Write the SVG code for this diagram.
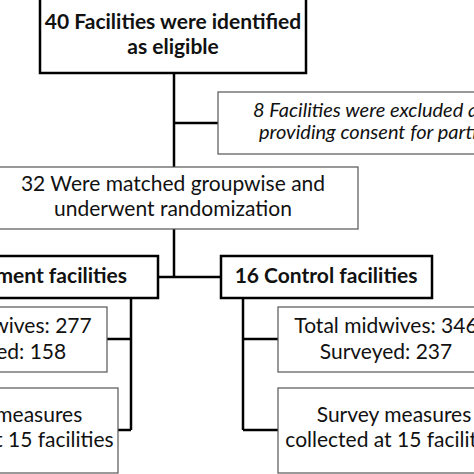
<svg xmlns="http://www.w3.org/2000/svg" width="474" height="474" viewBox="0 0 474 474">
<style>
.thick{fill:#fff;stroke:#000;stroke-width:2.5}
.thin{fill:#fff;stroke:#555;stroke-width:1.2}
.b{font-family:Lato,"Liberation Sans",sans-serif;font-weight:bold;font-size:21px;fill:#111;text-anchor:middle}
.r{font-family:Lato,"Liberation Sans",sans-serif;font-size:21px;fill:#111;text-anchor:middle}
.i{font-family:Lato,"Liberation Sans",sans-serif;font-style:italic;font-size:20px;fill:#111}
.c{fill:none;stroke:#000;stroke-width:2.5}
</style>
<rect width="474" height="474" fill="#fff"/>
<g id="connectors">
<path class="c" d="M174 73V167M174 123H218M174 229V277M158 277H221M131 298V430M107 339H131M118 430H131M243 298V430M243 339H278M243 430H278"/>
</g>
<g id="n-eligible">
<rect class="thick" x="40" y="-2" width="266" height="75"/>
<text class="b" x="173" y="29">40 Facilities were identified</text>
<text class="b" x="173" y="54">as eligible</text>
</g>
<g id="n-excluded">
<rect class="thin" x="218" y="92" width="320" height="62"/>
<text class="i" x="253" y="117">8 Facilities were excluded after not</text>
<text class="i" x="259" y="139">providing consent for participation</text>
</g>
<g id="n-randomized">
<rect class="thin" x="-12" y="167" width="370" height="62"/>
<text class="r" x="173" y="191">32 Were matched groupwise and</text>
<text class="r" x="173" y="216">underwent randomization</text>
</g>
<g id="n-treatment">
<rect class="thick" x="-60" y="256" width="218" height="42"/>
<text class="b" x="127" y="283" style="text-anchor:end">16 Treatment facilities</text>
</g>
<g id="n-control">
<rect class="thick" x="221" y="256" width="211" height="42"/>
<text class="b" x="326" y="283">16 Control facilities</text>
</g>
<g id="n-t-midwives">
<rect class="thin" x="-107" y="307" width="214" height="65"/>
<text class="r" x="0" y="333">Total midwives: 277</text>
<text class="r" x="0" y="359">Surveyed: 158</text>
</g>
<g id="n-t-survey">
<rect class="thin" x="-110" y="388" width="228" height="85"/>
<text class="r" x="5" y="422">Survey measures</text>
<text class="r" x="5" y="447">collected at 15 facilities</text>
</g>
<g id="n-c-midwives">
<rect class="thin" x="278" y="307" width="214" height="65"/>
<text class="r" x="386" y="333">Total midwives: 346</text>
<text class="r" x="386" y="359">Surveyed: 237</text>
</g>
<g id="n-c-survey">
<rect class="thin" x="278" y="388" width="228" height="85"/>
<text class="r" x="394" y="422">Survey measures</text>
<text class="r" x="394" y="447">collected at 15 facilities</text>
</g>
</svg>
